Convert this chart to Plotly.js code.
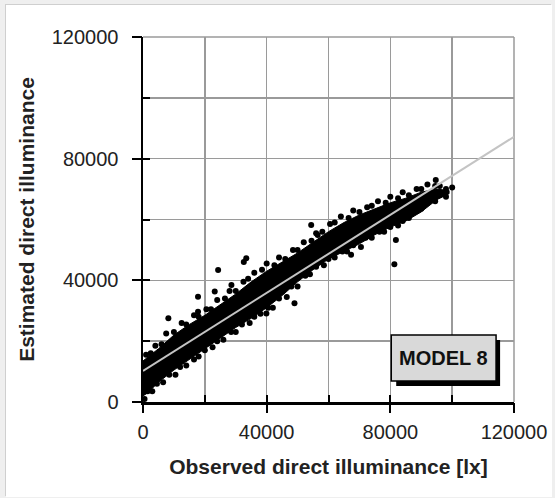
<!DOCTYPE html>
<html>
<head>
<meta charset="utf-8">
<script src="https://cdn.plot.ly/plotly-3.0.1.min.js"></script>
<style>
  html, body { margin: 0; padding: 0; background: #efefef; width: 555px; height: 498px; overflow: hidden; }
  #chart { position: absolute; left: 6px; top: 5px; width: 546px; height: 492px; background: #fff;
           box-shadow: -1px -1px 0 #cfcfcf; }
</style>
</head>
<body>
<div id="chart"></div>
<script>
// ---- data ----
// dense core of the point cloud (envelope: upper edge left->right, then lower edge right->left)
const coreX = [0, 5000, 10000, 15000, 20000, 25000, 30000, 35000, 40000, 45000, 50000, 55000, 60000, 65000, 70000, 75000, 80000, 85000, 90000, 95000, 99000,
               99000, 95000, 90000, 85000, 80000, 75000, 70000, 65000, 60000, 55000, 50000, 45000, 40000, 35000, 30000, 25000, 20000, 15000, 10000, 5000, 1500, 0];
const coreY = [13500, 17500, 22000, 25500, 28500, 32000, 35500, 39500, 43000, 46000, 49000, 52500, 56000, 59000, 61500, 63500, 65500, 67000, 69000, 70000, 69500,
               68500, 66500, 62500, 59500, 57500, 55000, 52000, 49500, 47000, 43500, 39500, 35000, 31000, 27500, 24500, 21000, 17500, 14000, 10500, 6500, 3000, 2000];

// individual points along the ragged edges of the cloud
const edgeX = [1000, 2500, 4000, 6000, 7500, 10000, 12500, 14000, 16500, 18000, 20500, 22000, 24000, 26500, 28000, 30000, 32500, 34000, 36000, 38500,
               40000, 42500, 44000, 46000, 48500, 50000, 52000, 54500, 56000, 58000, 60500, 62000, 64000, 66500, 68000, 70000, 72500, 74000, 76000, 78500,
               80000, 82500, 84000, 86000, 88500, 90000, 92000, 94500, 96000, 98000, 100000,
               500, 1500, 3000, 4500, 6500, 8500, 10500, 12000, 14000, 16500, 18000, 20000, 22500, 24000, 26000, 28500, 30000, 32000, 34500, 36000,
               38000, 40500, 42000, 44000, 46500, 48000, 50000, 52500, 54000, 56000, 58500, 60000, 62000, 64500, 66000, 68000, 70500, 72000, 74000, 76500,
               78000, 80000, 82500, 84000, 86000, 88500, 90000, 92000, 94500, 96000, 98000];
const edgeY = [15500, 16000, 18500, 19000, 22500, 23000, 26000, 25500, 28500, 28000, 30500, 30500, 33500, 34000, 36500, 36500, 39500, 40500, 42500, 43500,
               45500, 45000, 47500, 47000, 50000, 50000, 52500, 53000, 55500, 56000, 58500, 59000, 61000, 60500, 63000, 62500, 64000, 64500, 66000, 65500,
               67500, 67000, 69000, 68000, 70000, 70000, 71500, 71000, 71000, 70000, 70500,
               1000, 3500, 3500, 6000, 6500, 9000, 9000, 11500, 12000, 14000, 15000, 17000, 18000, 20000, 20500, 23000, 23000, 25500, 26000, 28000,
               29000, 31000, 31000, 34000, 34500, 38000, 38000, 41500, 42000, 44500, 45000, 47000, 47500, 49500, 49500, 51500, 51000, 54000, 54000, 56000,
               56000, 57500, 58000, 59500, 60500, 63000, 63500, 66000, 66000, 68000, 67500];

// isolated points away from the cloud
const outlierX = [8200, 17800, 17800, 23200, 24300, 28600, 33400, 32600, 39900, 49000, 54400, 56500, 67300, 81800, 81300, 94700];
const outlierY = [27500, 34600, 29700, 36300, 43400, 38500, 47300, 46000, 29100, 32500, 58200, 54900, 48400, 53300, 45300, 73000];

// regression line end points
const fitX = [0, 120000];
const fitY = [10200, 87200];

const tickVals = [0, 20000, 40000, 60000, 80000, 100000, 120000];
const tickText = ['0', '', '40000', '', '80000', '', '120000'];
const majorTicks = [0, 40000, 80000, 120000];

const xTitle = 'Observed direct illuminance [lx]';
const yTitle = 'Estimated direct illuminance';
const boxLabel = 'MODEL 8';

// ---- chart ----
const FONT = 'Arial, "Liberation Sans", sans-serif';
const traces = [
  { x: coreX, y: coreY, type: 'scatter', mode: 'lines', fill: 'toself', fillcolor: '#000',
    line: { color: '#000', width: 1 }, hoverinfo: 'skip', xaxis: 'x', yaxis: 'y' },
  { x: edgeX, y: edgeY, type: 'scatter', mode: 'markers', marker: { color: '#000', size: 6 },
    hoverinfo: 'skip', xaxis: 'x', yaxis: 'y' },
  { x: outlierX, y: outlierY, type: 'scatter', mode: 'markers', marker: { color: '#000', size: 6 },
    hoverinfo: 'skip', xaxis: 'x', yaxis: 'y' },
  { x: fitX, y: fitY, type: 'scatter', mode: 'lines', line: { color: '#c4c4c4', width: 2 },
    hoverinfo: 'skip', xaxis: 'x2', yaxis: 'y2' }
];

const baseAxis = {
  range: [0, 120000], fixedrange: true, zeroline: false,
  showgrid: true, gridcolor: '#9a9a9a', gridwidth: 1.5,
  tickmode: 'array', tickvals: tickVals, ticktext: tickText,
  ticks: 'inside', ticklen: 7, tickwidth: 2, tickcolor: '#000',
  showline: true, linecolor: '#000', linewidth: 2.5,
  tickfont: { family: FONT, size: 20, color: '#222' }
};
const overAxis = {
  range: [0, 120000], fixedrange: true, zeroline: false, showgrid: false,
  tickmode: 'array', tickvals: majorTicks, showticklabels: false,
  ticks: 'outside', ticklen: 10, tickwidth: 2, tickcolor: '#000', showline: false
};

const layout = {
  width: 546, height: 492,
  margin: { l: 137, r: 38, t: 32, b: 95 },
  paper_bgcolor: '#fff', plot_bgcolor: '#fff',
  showlegend: false,
  xaxis: Object.assign({}, baseAxis, {
    ticklabelstandoff: 10,
    title: { text: xTitle, font: { family: FONT, size: 21, color: '#222', weight: 'bold' }, standoff: 18 }
  }),
  yaxis: Object.assign({}, baseAxis, {
    ticklabelstandoff: 18,
    title: { text: yTitle, font: { family: FONT, size: 21, color: '#222', weight: 'bold' }, standoff: 12 }
  }),
  xaxis2: Object.assign({}, overAxis, { overlaying: 'x', anchor: 'y', side: 'bottom' }),
  yaxis2: Object.assign({}, overAxis, { overlaying: 'y', anchor: 'x', side: 'left' }),
  shapes: [
    // top / right frame of plot area
    { type: 'line', xref: 'paper', yref: 'paper', x0: 0, x1: 1, y0: 1, y1: 1, line: { color: '#9a9a9a', width: 1.5 }, layer: 'below' },
    { type: 'line', xref: 'paper', yref: 'paper', x0: 1, x1: 1, y0: 0, y1: 1, line: { color: '#9a9a9a', width: 1.5 }, layer: 'below' },
    // label box shadow and box
    { type: 'rect', xref: 'x', yref: 'y', x0: 81900, x1: 115500, y0: 5300, y1: 20400, fillcolor: '#000', line: { width: 0 }, layer: 'above' },
    { type: 'rect', xref: 'x', yref: 'y', x0: 80300, x1: 114200, y0: 6900, y1: 22000, fillcolor: '#d9d9d9', line: { color: '#000', width: 1.5 }, layer: 'above' }
  ],
  annotations: [
    { x: 97250, y: 14450, xref: 'x', yref: 'y', text: '<b>' + boxLabel + '</b>', showarrow: false,
      font: { family: FONT, size: 20, color: '#111' } }
  ]
};

Plotly.newPlot('chart', traces, layout, { staticPlot: true, displayModeBar: false });
</script>
</body>
</html>
